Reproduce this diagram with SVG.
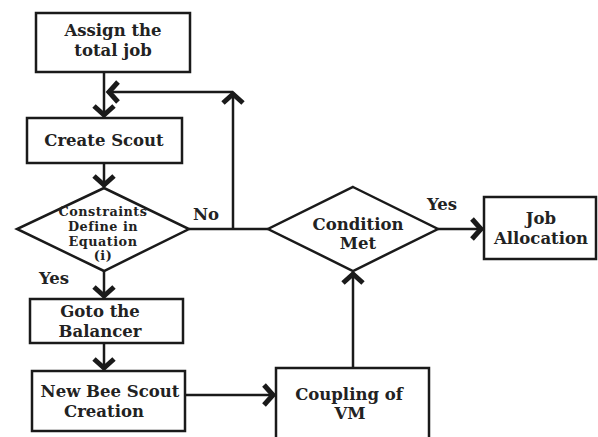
<svg xmlns="http://www.w3.org/2000/svg" width="598" height="437" viewBox="0 0 598 437">
<defs>
<style>
.box{fill:#fff;stroke:#1a1a1a;stroke-width:2.5}
.t{font-family:"DejaVu Serif","Liberation Serif",serif;font-weight:bold;font-size:16.5px;fill:#222;text-anchor:middle}
.s{font-size:12.8px;letter-spacing:0.5px}
.c{stroke:#1a1a1a;stroke-width:2.5;fill:none}
.a{marker-end:url(#ah)}
</style>
<marker id="ah" markerUnits="userSpaceOnUse" viewBox="-16 -13 18 26" refX="0" refY="0" markerWidth="18" markerHeight="26" orient="auto">
<path d="M-11,-10 L-2,0 L-11,10" fill="none" stroke="#1a1a1a" stroke-width="5"/>
</marker>
</defs>
<rect width="598" height="437" fill="#fff"/>
<g id="connectors">
<line class="c a" x1="104" y1="72" x2="104" y2="117"/>
<line class="c a" x1="104" y1="163" x2="104" y2="187"/>
<line class="c a" x1="104" y1="271" x2="104" y2="298"/>
<line class="c a" x1="104" y1="343" x2="104" y2="370"/>
<line class="c a" x1="185" y1="395" x2="275" y2="395"/>
<line class="c a" x1="353" y1="368" x2="353" y2="272"/>
<line class="c a" x1="438" y1="229" x2="483" y2="229"/>
<line class="c" x1="189" y1="229" x2="268" y2="229"/>
<line class="c a" x1="233" y1="229" x2="233" y2="92"/>
<line class="c a" x1="233" y1="92" x2="107" y2="92"/>
<text class="t" x="206" y="220">No</text>
<text class="t" x="54" y="284">Yes</text>
<text class="t" x="442" y="210">Yes</text>
</g>
<g id="assign">
<rect class="box" x="36" y="13" width="154" height="59"/>
<text class="t" x="113" y="36">Assign the</text>
<text class="t" x="113" y="56">total job</text>
</g>
<g id="create">
<rect class="box" x="27" y="118" width="155" height="45"/>
<text class="t" x="104" y="146">Create Scout</text>
</g>
<g id="constraints">
<polygon class="box" points="104,188 189,229 104,271 17,229"/>
<text class="t s" x="103" y="216">Constraints</text>
<text class="t s" x="103" y="230.8">Define in</text>
<text class="t s" x="103" y="245.6">Equation</text>
<text class="t s" x="103" y="260.4">(i)</text>
</g>
<g id="goto">
<rect class="box" x="30" y="299" width="153" height="44"/>
<text class="t" x="100" y="317">Goto the</text>
<text class="t" x="100" y="337">Balancer</text>
</g>
<g id="newbee">
<rect class="box" x="32" y="371" width="153" height="60"/>
<text class="t" x="110" y="397">New Bee Scout</text>
<text class="t" x="104" y="417">Creation</text>
</g>
<g id="coupling">
<rect class="box" x="276" y="368" width="153" height="80"/>
<text class="t" x="349" y="400">Coupling of</text>
<text class="t" x="350" y="419">VM</text>
</g>
<g id="condition">
<polygon class="box" points="353,187 438,229 353,271 268,229"/>
<text class="t" x="358" y="230">Condition</text>
<text class="t" x="358" y="249">Met</text>
</g>
<g id="job">
<rect class="box" x="484" y="197" width="112" height="62"/>
<text class="t" x="541" y="224">Job</text>
<text class="t" x="541" y="244">Allocation</text>
</g>
</svg>
